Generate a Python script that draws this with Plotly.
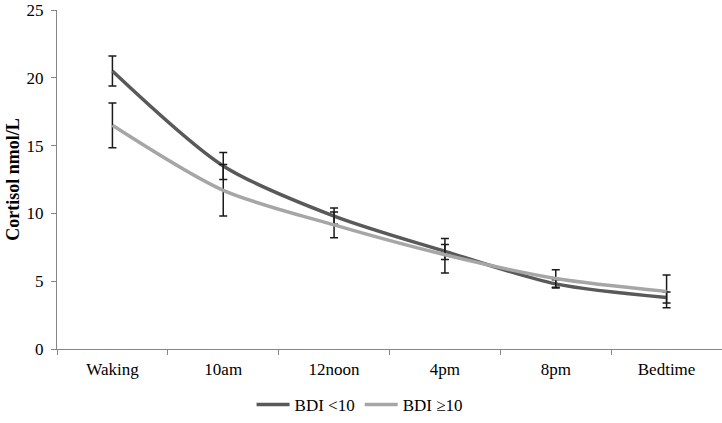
import plotly.graph_objects as go

categories = ["Waking", "10am", "12noon", "4pm", "8pm", "Bedtime"]
bdi_low = [20.5, 13.5, 9.8, 7.2, 4.8, 3.8]
bdi_low_err_plus = [1.1, 1.0, 0.6, 0.95, 0.3, 0.4]
bdi_low_err_minus = [1.1, 1.0, 0.6, 0.6, 0.3, 0.4]
bdi_high = [16.5, 11.7, 9.15, 6.95, 5.2, 4.25]
bdi_high_err_plus = [1.65, 1.9, 0.95, 0.75, 0.65, 1.2]
bdi_high_err_minus = [1.65, 1.9, 0.95, 1.35, 0.65, 1.2]
y_ticks = [0, 5, 10, 15, 20, 25]

font_family = "Liberation Serif"

fig = go.Figure()
fig.add_trace(go.Scatter(
    x=categories, y=bdi_low, mode="lines", name="BDI <10",
    line=dict(color="#595959", width=3.5, shape="spline", smoothing=0.8),
    error_y=dict(type="data", symmetric=False, array=bdi_low_err_plus,
                 arrayminus=bdi_low_err_minus, color="#1a1a1a",
                 thickness=1.5, width=4),
))
fig.add_trace(go.Scatter(
    x=categories, y=bdi_high, mode="lines", name="BDI \u226510",
    line=dict(color="#a6a6a6", width=3.5, shape="spline", smoothing=0.8),
    error_y=dict(type="data", symmetric=False, array=bdi_high_err_plus,
                 arrayminus=bdi_high_err_minus, color="#1a1a1a",
                 thickness=1.5, width=4),
))

fig.update_layout(
    width=722, height=423,
    margin=dict(l=57, r=0, t=10, b=70),
    paper_bgcolor="white", plot_bgcolor="white",
    font=dict(family=font_family, size=17, color="#000000"),
    showlegend=True,
    legend=dict(orientation="h", x=0.455, xanchor="center", y=-0.165,
                yanchor="middle", font=dict(size=17), itemwidth=33),
    xaxis=dict(
        type="category", range=[-0.5, 5.5], showline=True, linecolor="#868686",
        linewidth=1, ticks="outside", tickson="boundaries", ticklen=5,
        tickcolor="#868686", showgrid=False, zeroline=False, automargin=False,
        ticklabelstandoff=5,
    ),
    yaxis=dict(
        range=[0, 25], tickvals=y_ticks, showline=True, linecolor="#868686",
        linewidth=1, ticks="outside", ticklen=5, tickcolor="#868686",
        showgrid=False, zeroline=False, automargin=False,
        ticklabelstandoff=4,
        title=dict(text="<b>Cortisol nmol/L</b>", font=dict(size=18), standoff=2),
    ),
)

fig.write_html(
    "out.html",
    config={"displayModeBar": False},
    post_script="document.body.style.margin='0';document.body.style.overflow='hidden';",
)
